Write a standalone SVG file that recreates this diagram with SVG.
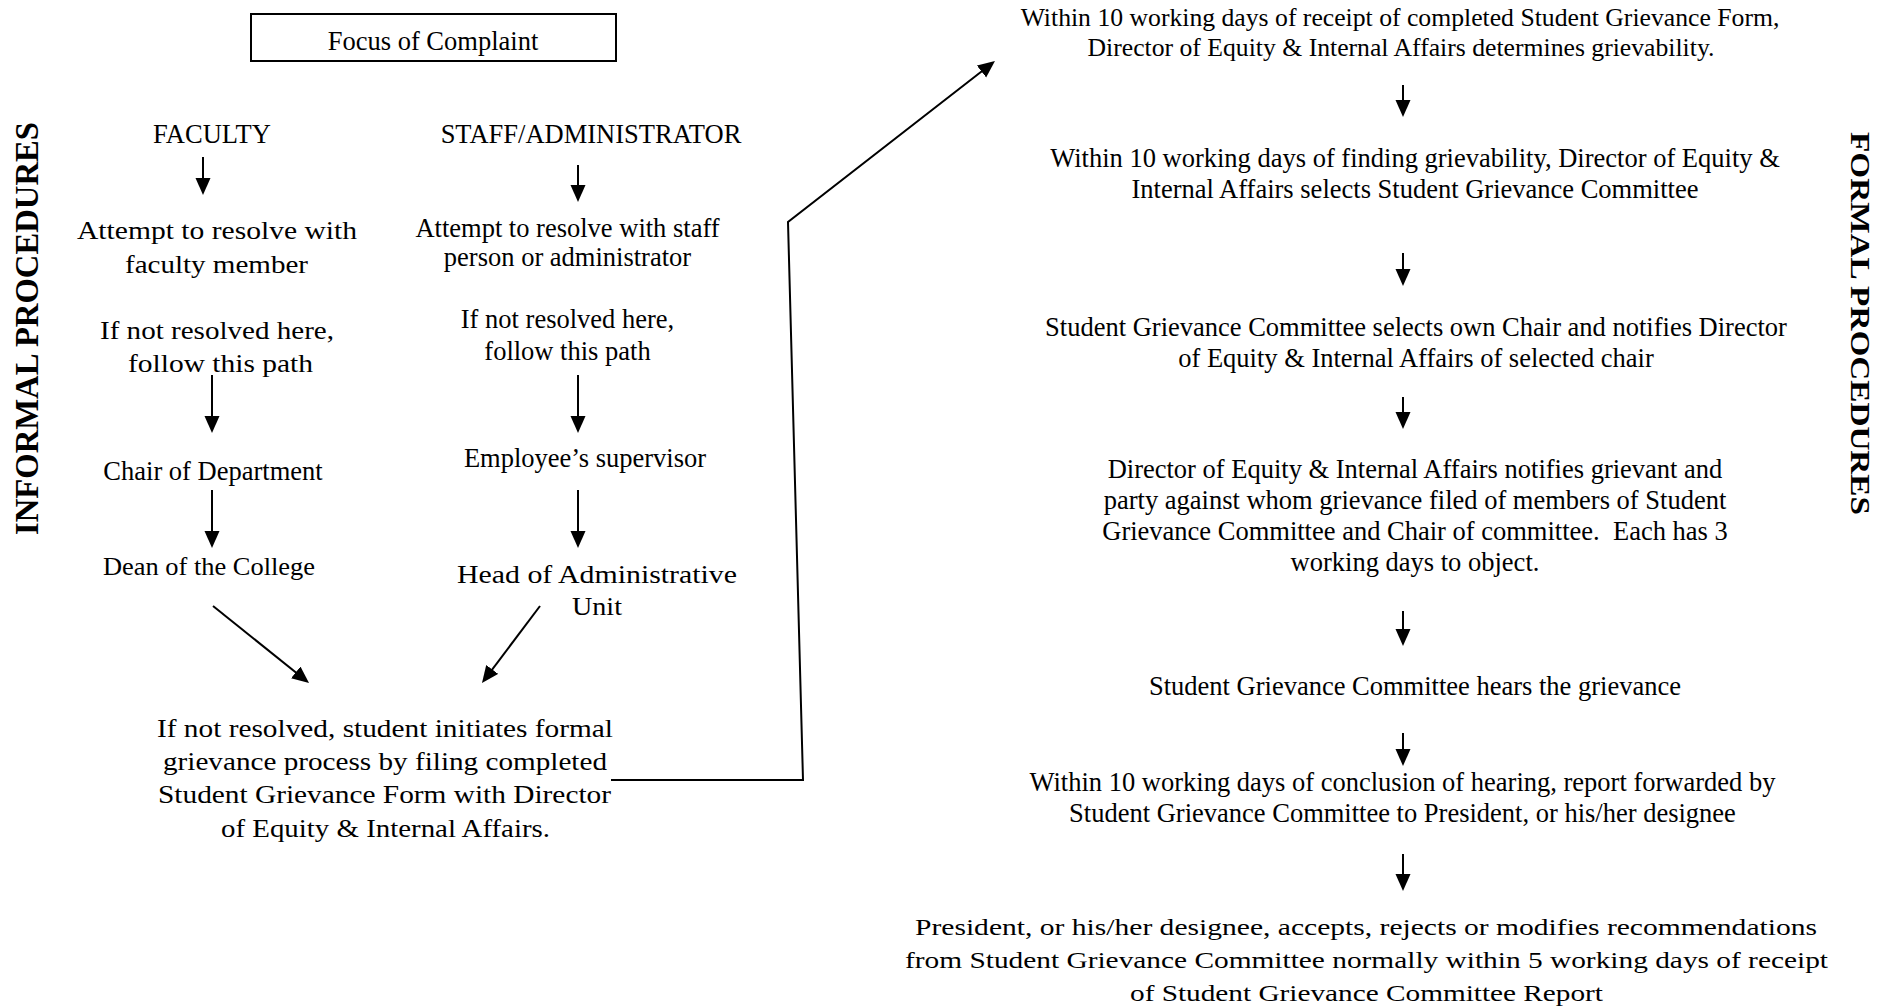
<svg xmlns="http://www.w3.org/2000/svg" width="1896" height="1008" viewBox="0 0 1896 1008">
<style>
text{font-family:"Liberation Serif","Times New Roman",serif;fill:#000;text-anchor:middle}
.t{font-size:26.5px}
.s{font-size:25.7px}
.p{font-size:25.5px}
.b{font-size:25px}
.f{font-size:24px}
.lbl{font-weight:bold}
.ln{stroke:#000;stroke-width:2;fill:none}
</style>
<defs>
<marker id="ah" markerUnits="userSpaceOnUse" markerWidth="18" markerHeight="16" refX="13" refY="7.5" orient="auto">
<path d="M0,0 L17,7.5 L0,15 z" fill="#000"/>
</marker>
</defs>
<rect width="1896" height="1008" fill="#fff"/>

<g id="label-informal"><text class="lbl" font-size="33" transform="translate(38,328.5) rotate(-90)" textLength="413" lengthAdjust="spacingAndGlyphs">INFORMAL PROCEDURES</text></g>
<g id="label-formal"><text class="lbl" font-size="28" transform="translate(1851,323.5) rotate(90)" textLength="383" lengthAdjust="spacingAndGlyphs">FORMAL PROCEDURES</text></g>

<g id="focus">
<rect x="251" y="14" width="365" height="47" fill="none" stroke="#000" stroke-width="2"/>
<text class="t" x="433" y="50">Focus of Complaint</text>
</g>

<g id="faculty"><text class="t" x="212" y="143">FACULTY</text></g>
<g id="staff"><text class="t" x="591" y="143">STAFF/ADMINISTRATOR</text></g>

<g id="faculty-attempt">
<text class="p" x="217" y="239" textLength="280" lengthAdjust="spacingAndGlyphs">Attempt to resolve with</text>
<text class="p" x="216.5" y="273" textLength="183" lengthAdjust="spacingAndGlyphs">faculty member</text>
</g>
<g id="faculty-ifnot">
<text class="p" x="217" y="339" textLength="234" lengthAdjust="spacingAndGlyphs">If not resolved here,</text>
<text class="p" x="220.5" y="372" textLength="185" lengthAdjust="spacingAndGlyphs">follow this path</text>
</g>
<g id="chair"><text class="t" x="213" y="480">Chair of Department</text></g>
<g id="dean"><text class="p" x="209" y="575" textLength="212" lengthAdjust="spacingAndGlyphs">Dean of the College</text></g>

<g id="staff-attempt">
<text class="t" x="567.5" y="237">Attempt to resolve with staff</text>
<text class="t" x="567.5" y="266">person or administrator</text>
</g>
<g id="staff-ifnot">
<text class="t" x="567.5" y="328">If not resolved here,</text>
<text class="t" x="567.5" y="360">follow this path</text>
</g>
<g id="supervisor"><text class="t" x="585" y="467">Employee’s supervisor</text></g>
<g id="head">
<text class="p" x="597" y="583" textLength="280" lengthAdjust="spacingAndGlyphs">Head of Administrative</text>
<text class="p" x="597" y="615" textLength="50" lengthAdjust="spacingAndGlyphs">Unit</text>
</g>

<g id="initiate">
<text class="b" x="385" y="737" textLength="456" lengthAdjust="spacingAndGlyphs">If not resolved, student initiates formal</text>
<text class="b" x="385" y="770" textLength="444" lengthAdjust="spacingAndGlyphs">grievance process by filing completed</text>
<text class="b" x="384.5" y="803" textLength="453" lengthAdjust="spacingAndGlyphs">Student Grievance Form with Director</text>
<text class="b" x="385.5" y="837" textLength="329" lengthAdjust="spacingAndGlyphs">of Equity &amp; Internal Affairs.</text>
</g>

<g id="step1">
<text class="s" x="1400" y="26">Within 10 working days of receipt of completed Student Grievance Form,</text>
<text class="s" x="1401" y="56">Director of Equity &amp; Internal Affairs determines grievability.</text>
</g>
<g id="step2">
<text class="t" x="1415" y="167">Within 10 working days of finding grievability, Director of Equity &amp;</text>
<text class="t" x="1415" y="198">Internal Affairs selects Student Grievance Committee</text>
</g>
<g id="step3">
<text class="t" x="1416" y="336">Student Grievance Committee selects own Chair and notifies Director</text>
<text class="t" x="1416" y="367">of Equity &amp; Internal Affairs of selected chair</text>
</g>
<g id="step4">
<text class="t" x="1415" y="478">Director of Equity &amp; Internal Affairs notifies grievant and</text>
<text class="t" x="1415" y="509">party against whom grievance filed of members of Student</text>
<text class="t" x="1415" y="540" xml:space="preserve">Grievance Committee and Chair of committee.  Each has 3</text>
<text class="t" x="1415" y="571">working days to object.</text>
</g>
<g id="step5"><text class="t" x="1415" y="695">Student Grievance Committee hears the grievance</text></g>
<g id="step6">
<text class="t" x="1402.5" y="791">Within 10 working days of conclusion of hearing, report forwarded by</text>
<text class="t" x="1402.5" y="822">Student Grievance Committee to President, or his/her designee</text>
</g>
<g id="step7">
<text class="f" x="1366" y="935" textLength="902" lengthAdjust="spacingAndGlyphs">President, or his/her designee, accepts, rejects or modifies recommendations</text>
<text class="f" x="1366.5" y="968" textLength="923" lengthAdjust="spacingAndGlyphs">from Student Grievance Committee normally within 5 working days of receipt</text>
<text class="f" x="1366.5" y="1001" textLength="473" lengthAdjust="spacingAndGlyphs">of Student Grievance Committee Report</text>
</g>

<g id="connectors">
<line class="ln" x1="203" y1="157" x2="203" y2="191" marker-end="url(#ah)"/>
<line class="ln" x1="212" y1="375" x2="212" y2="429" marker-end="url(#ah)"/>
<line class="ln" x1="212" y1="490" x2="212" y2="544" marker-end="url(#ah)"/>
<line class="ln" x1="578" y1="165" x2="578" y2="198" marker-end="url(#ah)"/>
<line class="ln" x1="578" y1="375" x2="578" y2="429" marker-end="url(#ah)"/>
<line class="ln" x1="578" y1="490" x2="578" y2="544" marker-end="url(#ah)"/>
<line class="ln" x1="213" y1="606" x2="305.9" y2="680.5" marker-end="url(#ah)"/>
<line class="ln" x1="540" y1="606" x2="484.4" y2="679.8" marker-end="url(#ah)"/>
<polyline class="ln" points="611,780 803,780 788,222 991.8,63.5" marker-end="url(#ah)"/>
<line class="ln" x1="1403" y1="85" x2="1403" y2="113" marker-end="url(#ah)"/>
<line class="ln" x1="1403" y1="253" x2="1403" y2="282" marker-end="url(#ah)"/>
<line class="ln" x1="1403" y1="397" x2="1403" y2="425" marker-end="url(#ah)"/>
<line class="ln" x1="1403" y1="611" x2="1403" y2="642" marker-end="url(#ah)"/>
<line class="ln" x1="1403" y1="733" x2="1403" y2="762" marker-end="url(#ah)"/>
<line class="ln" x1="1403" y1="854" x2="1403" y2="887" marker-end="url(#ah)"/>
</g>
</svg>
